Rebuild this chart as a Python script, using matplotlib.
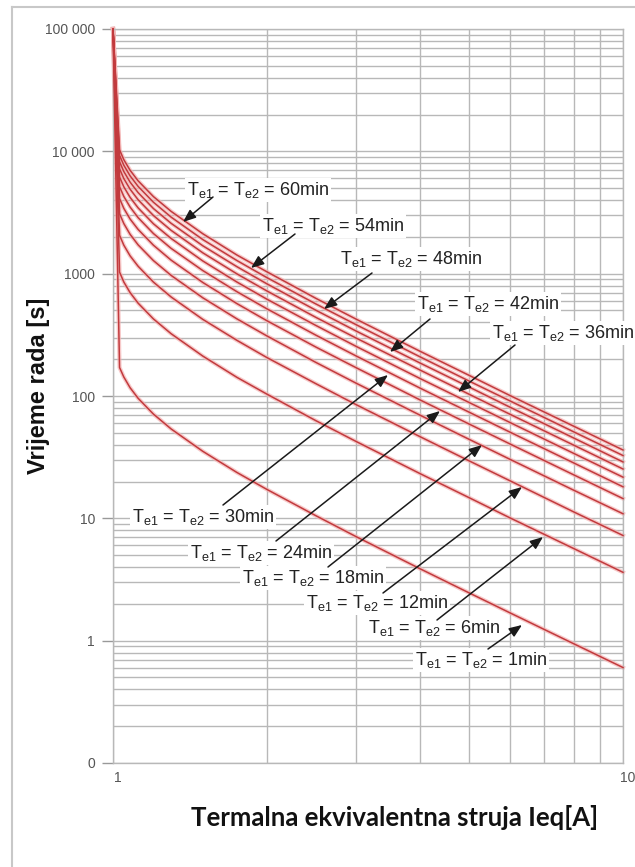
import numpy as np
import matplotlib
matplotlib.use("Agg")
import matplotlib.pyplot as plt
from matplotlib.ticker import FixedLocator, FixedFormatter, LogLocator, NullFormatter
from matplotlib.transforms import ScaledTranslation
from matplotlib.lines import Line2D

plt.rcParams['font.family'] = ['Liberation Sans', 'DejaVu Sans']
plt.rcParams['mathtext.default'] = 'regular'

# termalna ekvivalentna struja Ieq [A]
struja = [1.0, 1.03, 1.05, 1.08, 1.12, 1.2, 1.3, 1.5, 1.75, 2, 2.5, 3, 4, 5, 6, 8, 10]

# vrijeme rada [s] za svaku vremensku konstantu
t60 = [100000, 10300, 8550, 7010, 5740, 4270, 3230, 2120, 1420, 1040, 628, 424, 232, 147, 101, 56.7, 36.2]
t54 = [100000, 9260, 7700, 6310, 5170, 3840, 2900, 1900, 1280, 932, 565, 382, 209, 132, 91.3, 51.0, 32.6]
t48 = [100000, 8230, 6840, 5610, 4600, 3410, 2580, 1690, 1140, 829, 502, 339, 186, 118, 81.1, 45.4, 28.9]
t42 = [100000, 7200, 5990, 4910, 4020, 2990, 2260, 1480, 996, 725, 439, 297, 163, 103, 71.0, 39.7, 25.3]
t36 = [100000, 6170, 5130, 4210, 3450, 2560, 1940, 1270, 854, 621, 377, 254, 139, 88.2, 60.8, 34.0, 21.7]
t30 = [100000, 5140, 4280, 3510, 2870, 2130, 1610, 1060, 712, 518, 314, 212, 116, 73.5, 50.7, 28.4, 18.1]
t24 = [100000, 4120, 3420, 2800, 2300, 1710, 1290, 847, 569, 414, 251, 170, 92.9, 58.8, 40.6, 22.7, 14.5]
t18 = [100000, 3090, 2570, 2100, 1720, 1280, 968, 635, 427, 311, 188, 127, 69.7, 44.1, 30.4, 17.0, 10.9]
t12 = [100000, 2060, 1710, 1400, 1150, 854, 645, 423, 285, 207, 126, 84.8, 46.5, 29.4, 20.3, 11.3, 7.24]
t6 = [100000, 1030, 855, 701, 574, 427, 323, 212, 142, 104, 62.8, 42.4, 23.2, 14.7, 10.1, 5.67, 3.62]
t1 = [100000, 171, 143, 117, 95.8, 71.2, 53.8, 35.3, 23.7, 17.3, 10.5, 7.07, 3.87, 2.45, 1.69, 0.945, 0.603]

krivulje = [t60, t54, t48, t42, t36, t30, t24, t18, t12, t6, t1]
oznake = ['60min', '54min', '48min', '42min', '36min', '30min', '24min', '18min', '12min', '6min', '1min']

y_ticks = [0.1, 1, 10, 100, 1000, 10000, 100000]
y_labels = ['0', '1', '10', '100', '1000', '10 000', '100 000']
x_ticks = [1, 10]
x_labels = ['1', '10']

W, H = 635, 867

# polozaj natpisa (lijevi rub, sredina) i strelica (rep -> vrh), u pikselima slike
txt_pos = [(187, 190), (262, 226), (340, 259), (417, 304), (492, 333),
           (132, 517), (190, 553), (242, 578), (306, 603), (368, 628), (415, 660)]
arrows = [((213, 197), (183, 222)), ((295, 234), (251, 268)), ((372, 273), (324, 309)),
          ((430, 319), (390, 352)), ((515, 345), (458, 392)), ((223, 505), (388, 375)),
          ((276, 541), (440, 411)), ((328, 567), (482, 445)), ((383, 593), (522, 487)),
          ((437, 620), (543, 537)), ((488, 649), (522, 625))]

fig = plt.figure(figsize=(W / 100, H / 100), dpi=100)
ax = fig.add_axes([113 / W, 104 / H, 510 / W, 734 / H])
ax.set_xscale('log')
ax.set_yscale('log')
ax.set_xlim(1, 10)
ax.set_ylim(0.1, 100000)

gc = '#b8b8b8'
ax.yaxis.set_major_locator(FixedLocator(y_ticks))
ax.yaxis.set_major_formatter(FixedFormatter(y_labels))
ax.yaxis.set_minor_locator(LogLocator(base=10, subs=np.arange(2, 10), numticks=50))
ax.yaxis.set_minor_formatter(NullFormatter())
ax.xaxis.set_major_locator(FixedLocator(x_ticks))
ax.xaxis.set_major_formatter(FixedFormatter(x_labels))
ax.xaxis.set_minor_locator(LogLocator(base=10, subs=np.arange(2, 10), numticks=50))
ax.xaxis.set_minor_formatter(NullFormatter())
ax.grid(which='both', color=gc, lw=1.0, zorder=0)
ax.set_axisbelow(True)
for s in ax.spines.values():
    s.set_color(gc)
    s.set_linewidth(1.0)

ax.tick_params(axis='y', which='major', length=8, width=1, color='#999999', pad=5,
               labelsize=10, labelcolor='#555555')
ax.tick_params(axis='x', which='major', length=0, pad=6, labelsize=10, labelcolor='#555555')
ax.tick_params(which='minor', length=0)
for lab in ax.get_xticklabels():
    lab.set_transform(lab.get_transform() + ScaledTranslation(0.045, 0, fig.dpi_scale_trans))

for t in krivulje:
    ax.plot(struja, t, color='#f4b4b4', lw=3.0, alpha=0.7, zorder=2, clip_on=False,
            solid_joinstyle='round')
    ax.plot(struja, t, color='#c23a3d', lw=1.1, zorder=3, clip_on=False)

for lab, (tx, ty) in zip(oznake, txt_pos):
    ax.annotate('T$_{e1}$ = T$_{e2}$ = ' + lab, xy=(tx, H - ty), xycoords='figure pixels',
                ha='left', va='center', fontsize=13, color='#222222', zorder=5,
                bbox=dict(boxstyle='square,pad=0.12', fc='white', ec='none'))

for (tail, head) in arrows:
    ax.annotate('', xy=(head[0], H - head[1]), xycoords='figure pixels',
                xytext=(tail[0], H - tail[1]), textcoords='figure pixels', zorder=6,
                arrowprops=dict(arrowstyle='-|>,head_length=0.55,head_width=0.22',
                                color='#1a1a1a', lw=1.1, shrinkA=0, shrinkB=0,
                                mutation_scale=14))

fig.text(39 / W, 1 - 386 / H, 'Vrijeme rada [s]', rotation=90, ha='center', va='center',
         fontsize=17, fontweight='bold', color='#111111')
fig.text(395 / W, 1 - 818 / H, 'Termalna ekvivalentna struja Ieq[A]', ha='center', va='center',
         fontsize=18.5, fontweight='bold', family=['Lato', 'DejaVu Sans'], color='#111111')

# okvir slike
fig.add_artist(Line2D([12 / W, 12 / W], [0, 1 - 7 / H], transform=fig.transFigure,
                      color='#c8c8c8', lw=1.5))
fig.add_artist(Line2D([12 / W, 1], [1 - 7 / H, 1 - 7 / H], transform=fig.transFigure,
                      color='#c8c8c8', lw=1.5))

fig.savefig('out.png', dpi=100)
